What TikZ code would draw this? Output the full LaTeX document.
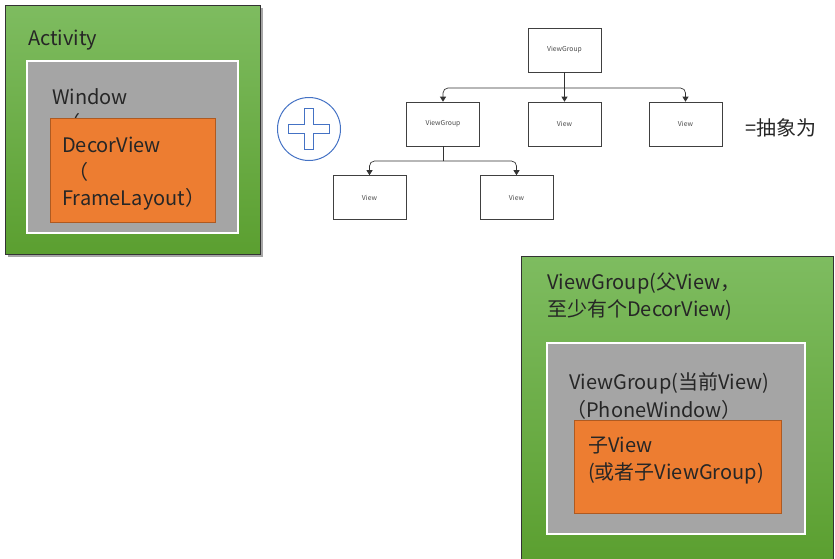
\documentclass[tikz,border=0pt]{standalone}
\usepackage{fontspec}
\setmainfont{Noto Sans CJK SC}
\usetikzlibrary{arrows.meta}
\definecolor{gtop}{HTML}{7EBC60}
\definecolor{gbot}{HTML}{5B9F30}
\definecolor{grayf}{HTML}{A5A5A5}
\definecolor{orangef}{HTML}{ED7D31}
\definecolor{oborder}{HTML}{AE5A21}
\definecolor{plusblue}{HTML}{4472C4}
\tikzset{
  greenbox/.style={draw=black!80, line width=0.8pt, top color=gtop, bottom color=gbot},
  graybox/.style={draw=white, line width=1.8pt, fill=grayf},
  orangebox/.style={draw=oborder, line width=0.8pt, fill=orangef},
  bigtxt/.style={anchor=west, inner sep=0pt, font=\fontsize{20}{26}\selectfont, text=black!85},
  treebox/.style={draw=black!75, line width=0.6pt, fill=white, minimum width=73pt, minimum height=44pt, inner sep=0pt, font=\fontsize{6.8}{8}\selectfont, text=black!70},
  conn/.style={draw=black!80, line width=0.7pt, rounded corners=5pt, -{Triangle[length=5pt,width=6pt]}}
}
\begin{document}
\begin{tikzpicture}[x=1pt,y=-1pt]
\useasboundingbox (0,0) rectangle (835,558);
% left group
\fill[black!35] (7.5,7.5) rectangle (262.5,256.5);
\path[greenbox] (5,5) rectangle (260,254);
\path[graybox] (27,61) rectangle (238,233);
\node[bigtxt] (act) at (28,40) {Activity};
\node[bigtxt] (win) at (52,97) {Window};
\node[bigtxt] (winp) at (60,123) {（};
\path[orangebox] (50,118) rectangle (215,222);
\node[bigtxt] (dv1) at (62,145) {DecorView};
\node[bigtxt] (dv2) at (68,172) {（};
\node[bigtxt] (dv3) at (62,199) {FrameLayout）};
% plus
\node[circle, draw=plusblue, line width=1pt, minimum size=63pt, inner sep=0pt] (plus) at (309,129) {};
\draw[plusblue, line width=1pt] (304.5,108) -- (313.5,108) -- (313.5,124.5) -- (329.5,124.5) -- (329.5,133.5) -- (313.5,133.5) -- (313.5,149.5) -- (304.5,149.5) -- (304.5,133.5) -- (288.5,133.5) -- (288.5,124.5) -- (304.5,124.5) -- cycle;
% tree
\node[treebox] (root) at (564.5,50) {ViewGroup};
\node[treebox] (vg) at (443,124) {ViewGroup};
\node[treebox] (v1) at (564.5,124) {View};
\node[treebox] (v2) at (685.5,124) {View};
\node[treebox] (v3) at (369.5,197.5) {View};
\node[treebox] (v4) at (516.5,197.5) {View};
\coordinate (j1) at (564.5,88);
\coordinate (j2) at (443,161);
\draw[draw=black!80, line width=0.7pt] (root.south) -- (j1);
\draw[conn] (j1) -| (vg.north);
\draw[conn] (j1) -| (v2.north);
\draw[conn, rounded corners=0pt] (j1) -- (v1.north);
\draw[draw=black!80, line width=0.7pt] (vg.south) -- (j2);
\draw[conn] (j2) -| (v3.north);
\draw[conn] (j2) -| (v4.north);
\node[bigtxt] (eq) at (745,128) {=抽象为};
% right group
\path[greenbox] (521,256) rectangle (833,562);
\path[graybox] (547,343) rectangle (805,534);
\node[bigtxt] (r1) at (547,283) {ViewGroup(父View，};
\node[bigtxt] (r2) at (547,310) {至少有个DecorView)};
\node[bigtxt] (r3) at (569,383) {ViewGroup(当前View)};
\node[bigtxt] (r4) at (566,410) {（PhoneWindow）};
\path[orangebox] (574,420) rectangle (781,513);
\node[bigtxt] (r5) at (588,446) {子View};
\node[bigtxt] (r6) at (588,473) {(或者子ViewGroup)};
\end{tikzpicture}
\end{document}
